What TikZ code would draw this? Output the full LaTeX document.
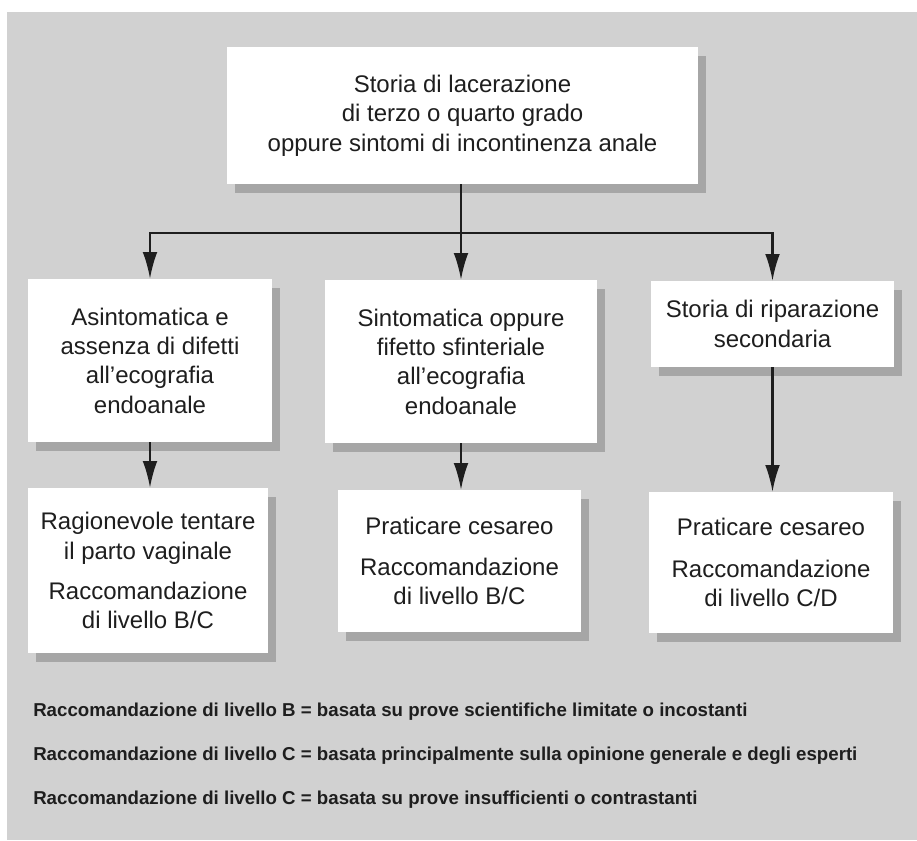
\documentclass[tikz,border=0pt]{standalone}
\usepackage{fontspec}
\setmainfont{Liberation Sans}
\usetikzlibrary{arrows.meta,shadows}
\definecolor{bg}{HTML}{D1D1D1}
\definecolor{shd}{HTML}{A6A6A6}
\definecolor{ink}{HTML}{1E1E1E}
\begin{document}
\begin{tikzpicture}[x=0.75pt,y=-0.75pt,
  box/.style={fill=white, inner sep=0pt, align=center, text=ink,
    font=\fontsize{18}{22}\selectfont,
    general shadow={fill=shd, shadow xshift=6pt, shadow yshift=-6.75pt}},
  arr/.style={draw=ink, line width=1.6pt, -{Latex[length=20pt,width=11pt]}},
  ln/.style={draw=ink, line width=1.6pt},
  note/.style={anchor=base west, inner sep=0pt, text=ink,
    font=\fontsize{14}{16}\selectfont\bfseries}]
\useasboundingbox (0,0) rectangle (917,840);
\fill[bg] (7,12) rectangle (917,840);

\node[box, minimum width=353.25pt, minimum height=102.75pt] (top) at (462.5,115.5)
  {Storia di lacerazione\\di terzo o quarto grado\\oppure sintomi di incontinenza anale};

\node[box, minimum width=183pt, minimum height=122.25pt] (A) at (150,360.5)
  {Asintomatica e\\assenza di difetti\\all’ecografia\\endoanale};
\node[box, minimum width=204pt, minimum height=122.25pt] (B) at (461,361.5)
  {Sintomatica oppure\\fifetto sfinteriale\\all’ecografia\\endoanale};
\node[box, minimum width=182.25pt, minimum height=64.5pt] (C) at (772.5,324)
  {Storia di riparazione\\secondaria};

\node[box, minimum width=180pt, minimum height=123.75pt] (D) at (148,570.5)
  {Ragionevole tentare\\il parto vaginale\\[8pt]Raccomandazione\\di livello B/C};
\node[box, minimum width=182.25pt, minimum height=106.5pt] (E) at (459.5,561)
  {Praticare cesareo\\[9pt]Raccomandazione\\di livello B/C};
\node[box, minimum width=183pt, minimum height=105.75pt] (F) at (771,562.5)
  {Praticare cesareo\\[9pt]Raccomandazione\\di livello C/D};

\coordinate (j) at (461,233);
\draw[ln] (top.south -| j) -- (j);
\draw[arr] (j) -| (A.north);
\draw[arr] (j) -- (j |- B.north);
\draw[arr] (j) -| (C.north);

\draw[arr] (A.south) -- (A.south |- D.north);
\draw[arr] (B.south) -- (B.south |- E.north);
\draw[arr] (C.south) -- (C.south |- F.north);

\node[note] (n1) at (33,716) {Raccomandazione di livello B = basata su prove scientifiche limitate o incostanti};
\node[note] (n2) at (33,760) {Raccomandazione di livello C = basata principalmente sulla opinione generale e degli esperti};
\node[note] (n3) at (33,804) {Raccomandazione di livello C = basata su prove insufficienti o contrastanti};
\end{tikzpicture}
\end{document}
